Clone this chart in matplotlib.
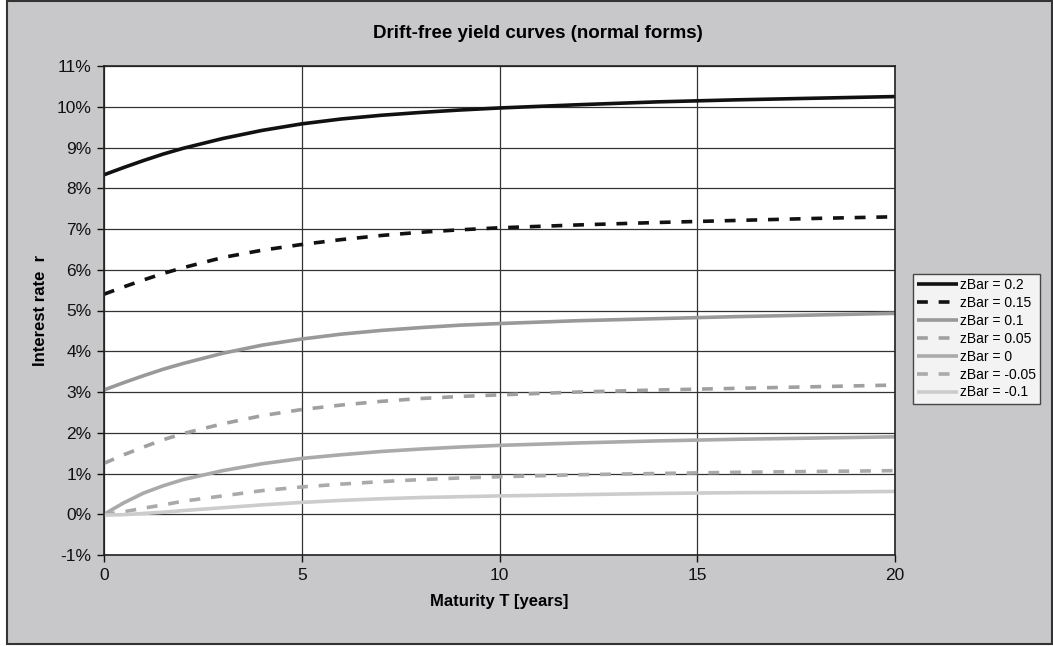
import numpy as np
import matplotlib
matplotlib.use("Agg")
import matplotlib.pyplot as plt
from matplotlib.patches import Rectangle

plt.rcParams['font.family'] = ['Liberation Sans', 'DejaVu Sans']

# maturities (years)
T = [0, 0.5, 1, 1.5, 2, 3, 4, 5, 6, 7, 8, 9, 10, 12, 14, 16, 18, 20]

# yield in percent
r_02 = [8.33, 8.51, 8.68, 8.84, 8.98, 9.22, 9.42, 9.58, 9.70, 9.79, 9.86, 9.92, 9.97, 10.05, 10.12, 10.17, 10.21, 10.25]
r_015 = [5.40, 5.58, 5.75, 5.91, 6.05, 6.30, 6.48, 6.62, 6.74, 6.84, 6.92, 6.98, 7.03, 7.10, 7.16, 7.21, 7.26, 7.30]
r_01 = [3.05, 3.23, 3.40, 3.56, 3.70, 3.95, 4.15, 4.30, 4.42, 4.51, 4.58, 4.64, 4.68, 4.75, 4.80, 4.85, 4.89, 4.93]
r_005 = [1.25, 1.46, 1.65, 1.83, 1.98, 2.22, 2.42, 2.57, 2.68, 2.77, 2.84, 2.89, 2.93, 3.00, 3.05, 3.09, 3.13, 3.17]
r_0 = [0.00, 0.28, 0.52, 0.70, 0.85, 1.07, 1.24, 1.37, 1.46, 1.54, 1.60, 1.65, 1.69, 1.75, 1.80, 1.84, 1.87, 1.90]
r_m005 = [0.00, 0.06, 0.15, 0.23, 0.32, 0.45, 0.58, 0.67, 0.74, 0.80, 0.85, 0.89, 0.92, 0.97, 1.00, 1.03, 1.05, 1.07]
r_m01 = [-0.02, -0.01, 0.02, 0.05, 0.09, 0.16, 0.23, 0.29, 0.34, 0.38, 0.41, 0.43, 0.45, 0.48, 0.51, 0.53, 0.54, 0.56]

series = [
    ("zBar = 0.2", r_02, "#111111", "-"),
    ("zBar = 0.15", r_015, "#111111", (0, (3, 3))),
    ("zBar = 0.1", r_01, "#999999", "-"),
    ("zBar = 0.05", r_005, "#a0a0a0", (0, (3, 3))),
    ("zBar = 0", r_0, "#aaaaaa", "-"),
    ("zBar = -0.05", r_m005, "#aaaaaa", (0, (3, 3))),
    ("zBar = -0.1", r_m01, "#cccccc", "-"),
]

W, H = 1053, 646
fig = plt.figure(figsize=(W / 100, H / 100), dpi=100)
fig.patch.set_facecolor("white")
bg = Rectangle((7 / W, 1 - 644 / H), (1052 - 7) / W, (644 - 1) / H,
               transform=fig.transFigure, facecolor="#c8c8ca",
               edgecolor="#333333", linewidth=1.5, zorder=-10)
fig.patches.append(bg)

ax = fig.add_axes([104 / W, 1 - 555 / H, (895 - 104) / W, (555 - 66) / H])
ax.set_facecolor("white")

for label, vals, col, ls in series:
    ax.plot(T, vals, color=col, linestyle=ls, linewidth=2.6, label=label,
            solid_capstyle="butt", dash_capstyle="butt")

ax.set_xlim(0, 20)
ax.set_ylim(-1, 11)
ax.set_xticks([0, 5, 10, 15, 20])
ax.set_yticks(range(-1, 12))
ax.set_yticklabels(["%d%%" % v for v in range(-1, 12)])
ax.grid(True, color="#333333", linewidth=0.9)
ax.set_axisbelow(True)
for s in ax.spines.values():
    s.set_color("#222222")
    s.set_linewidth(1.2)
ax.tick_params(axis="both", labelsize=12.5, colors="#111111", length=5,
               width=1, direction="out", pad=4)

ax.set_xlabel("Maturity T [years]", fontsize=12, fontweight="bold", labelpad=8)
ax.set_ylabel("Interest rate  r", fontsize=12, fontweight="bold", labelpad=6)
fig.text(538 / W, 1 - 33 / H, "Drift-free yield curves (normal forms)",
         ha="center", va="center", fontsize=13.5, fontweight="bold")

leg = ax.legend(loc="upper right", bbox_to_anchor=(1040 / W, 1 - 274 / H),
                bbox_transform=fig.transFigure, fontsize=10, frameon=True,
                fancybox=False, edgecolor="#222222", handlelength=3.0,
                handletextpad=0.1, labelspacing=0.28, borderpad=0.3,
                borderaxespad=0)
leg.get_frame().set_linewidth(1)

fig.savefig("out.png", dpi=100)
